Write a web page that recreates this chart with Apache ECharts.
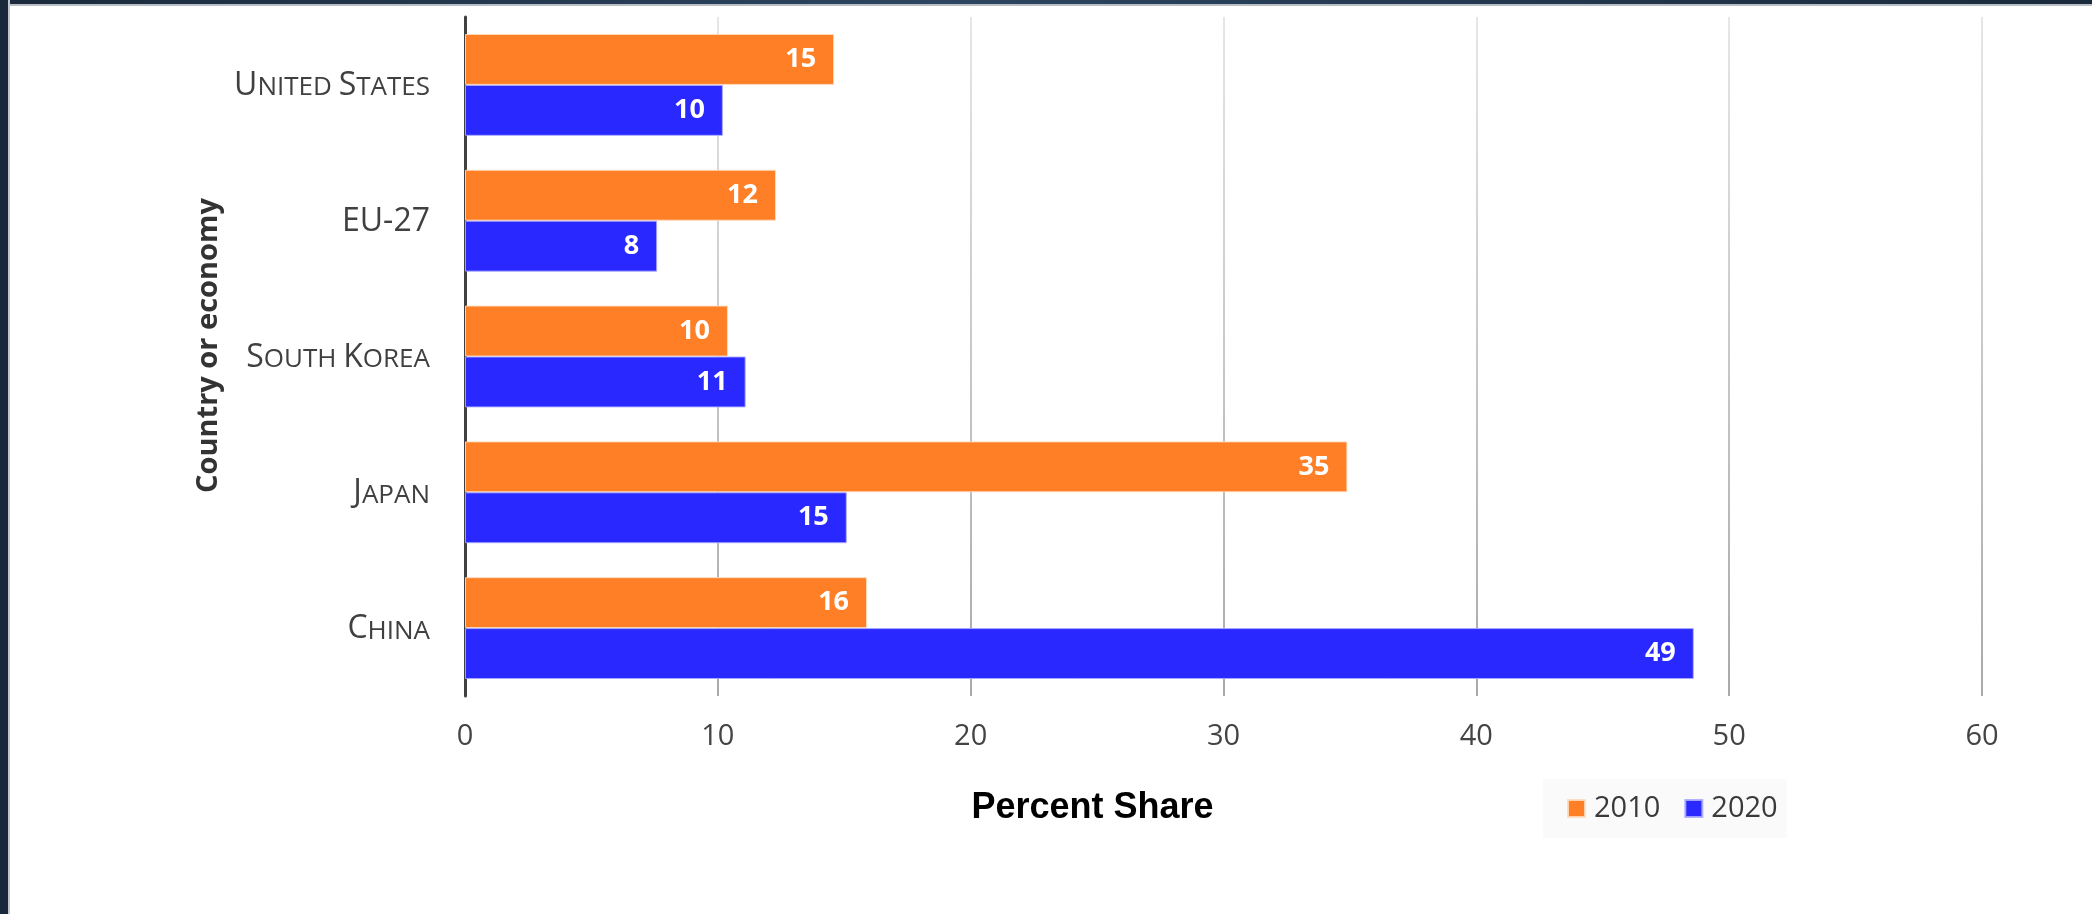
<!DOCTYPE html>
<html>
<head>
<meta charset="utf-8">
<title>Percent Share by Country or Economy</title>
<script src="https://cdn.jsdelivr.net/npm/echarts@6/dist/echarts.min.js"></script>
<style>
  html, body { margin: 0; padding: 0; background: #ffffff; }
  #chart { position: absolute; left: 0; top: 0; width: 2092px; height: 914px; }
  .frame-top { position: absolute; left: 0; top: 0; width: 2092px; height: 4px;
    background: linear-gradient(90deg, #1a2a3c, #2c4560 45%, #22364d 75%, #1a2a3c);
    border-bottom: 2px solid #b9bec5; pointer-events: none; }
  .frame-left { position: absolute; left: 0; top: 0; width: 8px; height: 914px;
    background: #1a2a3c; border-right: 2px solid #c4c8ce; pointer-events: none; }
</style>
</head>
<body>
<div id="chart"></div>
<div class="frame-top"></div>
<div class="frame-left"></div>
<script>
// Country / economy groups, top to bottom
const categories = ['United States', 'EU-27', 'South Korea', 'Japan', 'China'];
// Percent share per year
const share2010 = [14.6, 12.3, 10.4, 34.9, 15.9];
const share2020 = [10.2, 7.6, 11.1, 15.1, 48.6];
// Value axis ticks
const xTicks = [0, 10, 20, 30, 40, 50, 60];

// Render a name in small caps with rich text: capitals big, lower case as small capitals
function smallCaps(name) {
  let out = '';
  let run = '';
  let runStyle = null;
  for (const ch of name) {
    const isLower = ch !== ch.toUpperCase();
    const style = ch === ' ' ? (runStyle || 'big') : (isLower ? 'small' : 'big');
    if (style !== runStyle && run) {
      out += '{' + runStyle + '|' + run + '}';
      run = '';
    }
    runStyle = style;
    run += ch.toUpperCase();
  }
  if (run) out += '{' + runStyle + '|' + run + '}';
  return out;
}

const chart = echarts.init(document.getElementById('chart'), null, { renderer: 'canvas' });

const valueLabel = {
  show: true,
  position: 'insideRight',
  distance: 18,
  color: '#ffffff',
  fontFamily: 'Open Sans',
  fontWeight: 'bold',
  fontSize: 27,
  formatter: p => Math.round(p.value).toString()
};

chart.setOption({
  animation: false,
  backgroundColor: '#ffffff',
  grid: { left: 465, right: 110, top: 17, bottom: 218, containLabel: false },
  legend: {
    left: 1543,
    top: 779,
    backgroundColor: '#fafafa',
    padding: [15, 9, 15, 24],
    itemWidth: 17,
    itemHeight: 17,
    itemGap: 24,
    icon: 'rect',
    textStyle: { color: '#3a3a3a', fontFamily: 'Open Sans', fontSize: 29, padding: [0, 0, 0, 4] },
    data: ['2010', '2020']
  },
  xAxis: {
    type: 'value',
    min: xTicks[0],
    max: xTicks[xTicks.length - 1],
    interval: 10,
    name: 'Percent Share',
    nameLocation: 'middle',
    nameGap: 94,
    nameTextStyle: {
      color: '#000000', fontFamily: 'Liberation Sans', fontWeight: 'bold', fontSize: 36,
      padding: [0, 262, 0, 0]
    },
    axisLine: { show: false },
    axisTick: { show: false },
    axisLabel: { color: '#444444', fontFamily: 'Open Sans', fontSize: 29, margin: 26 },
    splitLine: {
      show: true,
      lineStyle: {
        width: 2,
        color: {
          type: 'linear', x: 0, y: 17, x2: 0, y2: 696, global: true,
          colorStops: [{ offset: 0, color: '#e6e6e6' }, { offset: 1, color: '#a9a9a9' }]
        }
      }
    }
  },
  yAxis: {
    type: 'category',
    inverse: true,
    data: categories,
    name: 'Country or economy',
    nameLocation: 'middle',
    nameRotate: 90,
    nameGap: 238,
    nameTextStyle: {
      color: '#333333', fontFamily: 'Open Sans', fontWeight: 'bold', fontSize: 29,
      padding: [0, 0, 0, 22]
    },
    axisLine: { show: true, lineStyle: { color: '#404040', width: 3 } },
    axisTick: { show: false },
    axisLabel: {
      margin: 35,
      color: '#404040',
      formatter: v => smallCaps(v),
      rich: {
        big: { fontFamily: 'Open Sans', fontSize: 32, color: '#404040', verticalAlign: 'bottom', lineHeight: 34 },
        small: { fontFamily: 'Open Sans', fontSize: 26, color: '#404040', verticalAlign: 'bottom', lineHeight: 34, padding: [0, 0, 1, 0] }
      }
    },
    splitLine: { show: false }
  },
  series: [
    {
      name: '2010',
      type: 'bar',
      data: share2010,
      barGap: '0%',
      barCategoryGap: '25%',
      itemStyle: { color: '#ff7f27', borderColor: 'rgba(255,220,190,0.9)', borderWidth: 1 },
      label: valueLabel
    },
    {
      name: '2020',
      type: 'bar',
      data: share2020,
      barGap: '0%',
      barCategoryGap: '25%',
      itemStyle: { color: '#2929ff', borderColor: 'rgba(170,170,255,0.9)', borderWidth: 1 },
      label: valueLabel
    }
  ]
});
</script>
</body>
</html>
